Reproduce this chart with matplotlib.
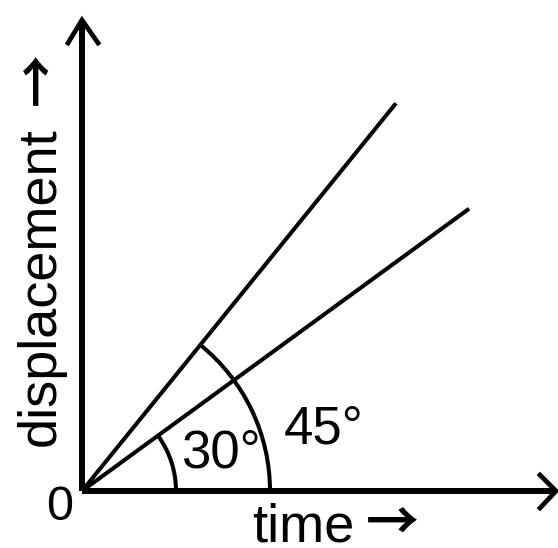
import numpy as np
import matplotlib
matplotlib.use('Agg')
import matplotlib.pyplot as plt
from matplotlib.patches import Arc

# Font with the arrow glyph as fallback
plt.rcParams['font.family'] = ['Liberation Sans', 'DejaVu Sans']

# Lines from the origin, as drawn (angle in degrees, length in pixels)
line_angles = [51.0, 36.1]
line_lengths = [499, 479]

# Angle arcs and their labels
arc_radii = [188, 94]
arc_angles = [51.0, 36.1]
angle_labels = ['45°', '30°']

# Axis texts
x_label = 'time'
y_label = 'displacement'
arrow = '→'
origin_label = '0'

# Axis lengths (pixels from the origin)
x_axis_length = 474
y_axis_length = 471


def draw_axes(ax):
    '''Draw the two axes with open arrow heads.'''
    ax.plot([0, x_axis_length], [0, 0], color='black', lw=4.3, solid_capstyle='butt')
    ax.plot([0, 0], [0, y_axis_length], color='black', lw=4.3, solid_capstyle='butt')

    # Arrow head on the x axis
    ax.plot([x_axis_length - 16, x_axis_length, x_axis_length - 16], [16, 0, -17],
            color='black', lw=3.4, solid_joinstyle='miter')
    # Arrow head on the y axis
    ax.plot([-14, 0, 16], [y_axis_length - 23, y_axis_length, y_axis_length - 23],
            color='black', lw=3.4, solid_joinstyle='miter')


def draw_lines(ax):
    '''Draw the straight lines starting at the origin.'''
    for angle, length in zip(line_angles, line_lengths):
        theta = np.radians(angle)
        ax.plot([0, length * np.cos(theta)], [0, length * np.sin(theta)],
                color='black', lw=2.9, solid_capstyle='butt')


def draw_arcs(ax):
    '''Draw the arcs that mark the angles.'''
    for radius, angle in zip(arc_radii, arc_angles):
        ax.add_patch(Arc((0, 0), 2 * radius, 2 * radius, theta1=0, theta2=angle,
                         color='black', lw=2.9))


fig = plt.figure(figsize=(5.58, 5.48), dpi=100)
ax = fig.add_axes([0, 0, 1, 1])
ax.set_xlim(-82, 476)
ax.set_ylim(-57, 491)
ax.axis('off')

draw_axes(ax)
draw_lines(ax)
draw_arcs(ax)

# Angle labels
ax.text(202, 48, angle_labels[0], fontsize=38, ha='left', va='baseline')
ax.text(99, 24, angle_labels[1], fontsize=38, ha='left', va='baseline')

# Axis labels, each followed by an open arrow (CJK font has the long one)
ax.text(170, -50, x_label, fontsize=39, ha='left', va='baseline')
ax.text(284, -50, arrow, fontsize=38, family=['Noto Sans CJK JP', 'DejaVu Sans'],
        fontweight='bold', ha='left', va='baseline')
ax.text(-27, 45, y_label, fontsize=39, rotation=90, rotation_mode='anchor',
        ha='left', va='baseline')
ax.text(-26, 386, arrow, fontsize=38, family=['Noto Sans CJK JP', 'DejaVu Sans'],
        fontweight='bold', rotation=90, rotation_mode='anchor',
        ha='left', va='baseline')

# Origin
ax.text(-36, -29, origin_label, fontsize=35, ha='left', va='baseline')

fig.savefig('out.png', dpi=100, facecolor='white')
